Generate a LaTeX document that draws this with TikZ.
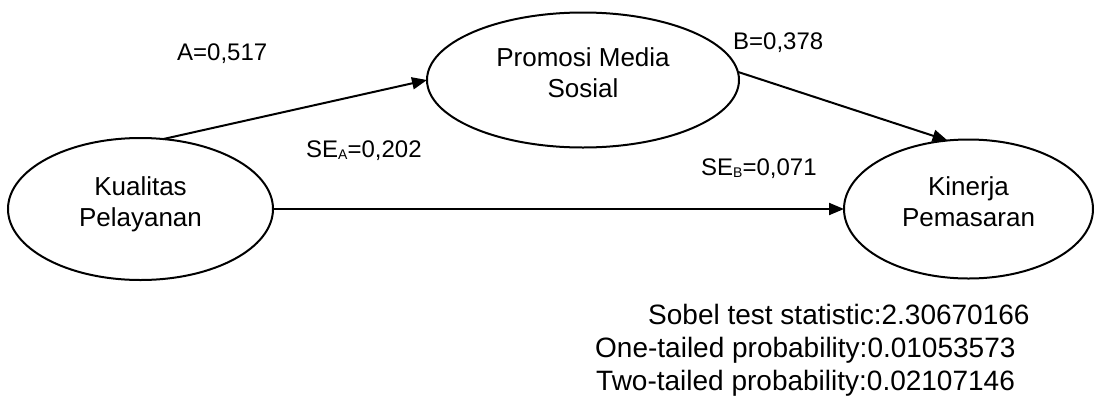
\documentclass[tikz,border=0pt]{standalone}
\usepackage{fontspec}
\setmainfont{Liberation Sans}
\usetikzlibrary{shapes.geometric,arrows.meta}
\tikzset{
  var/.style={ellipse, draw, line width=2pt, inner sep=0pt, outer sep=0pt,
    align=center, font=\fontsize{26}{31}\selectfont, text height=50pt, text depth=15pt},
  conn/.style={line width=2pt, -{Triangle[length=15pt,width=12pt]}},
  lbl/.style={anchor=base west, inner sep=0pt, font=\fontsize{24}{28}\selectfont},
  stat/.style={anchor=base west, inner sep=0pt, font=\fontsize{28}{33}\selectfont}
}
\newcommand{\sbs}[1]{\raisebox{-0.12em}{\fontsize{14}{14}\selectfont #1}}
\begin{document}
\begin{tikzpicture}[x=1pt,y=-1pt]
\useasboundingbox (0,0) rectangle (1096,397);
\node[var, minimum width=265pt, minimum height=142pt] (K) at (140.5,209) {Kualitas\\Pelayanan};
\node[var, minimum width=312pt, minimum height=135pt] (P) at (583,80) {Promosi Media\\Sosial};
\node[var, minimum width=249pt, minimum height=139pt] (Kn) at (968.5,209) {Kinerja\\Pemasaran};
\draw[conn] (K.72) -- (P.west);
\draw[conn] (P.3) -- (Kn.107);
\draw[conn] (K.east) -- (Kn.west);
\node[lbl] (la) at (177,60) {A=0,517};
\node[lbl] (lsa) at (306,157) {SE\sbs{A}=0,202};
\node[lbl] (lb) at (733,49) {B=0,378};
\node[lbl] (lsb) at (701,175) {SE\sbs{B}=0,071};
\node[stat] (s1) at (648,324) {Sobel test statistic:2.30670166};
\node[stat] (s2) at (595,357) {One-tailed probability:0.01053573};
\node[stat] (s3) at (596,390) {Two-tailed probability:0.02107146};
\end{tikzpicture}
\end{document}
